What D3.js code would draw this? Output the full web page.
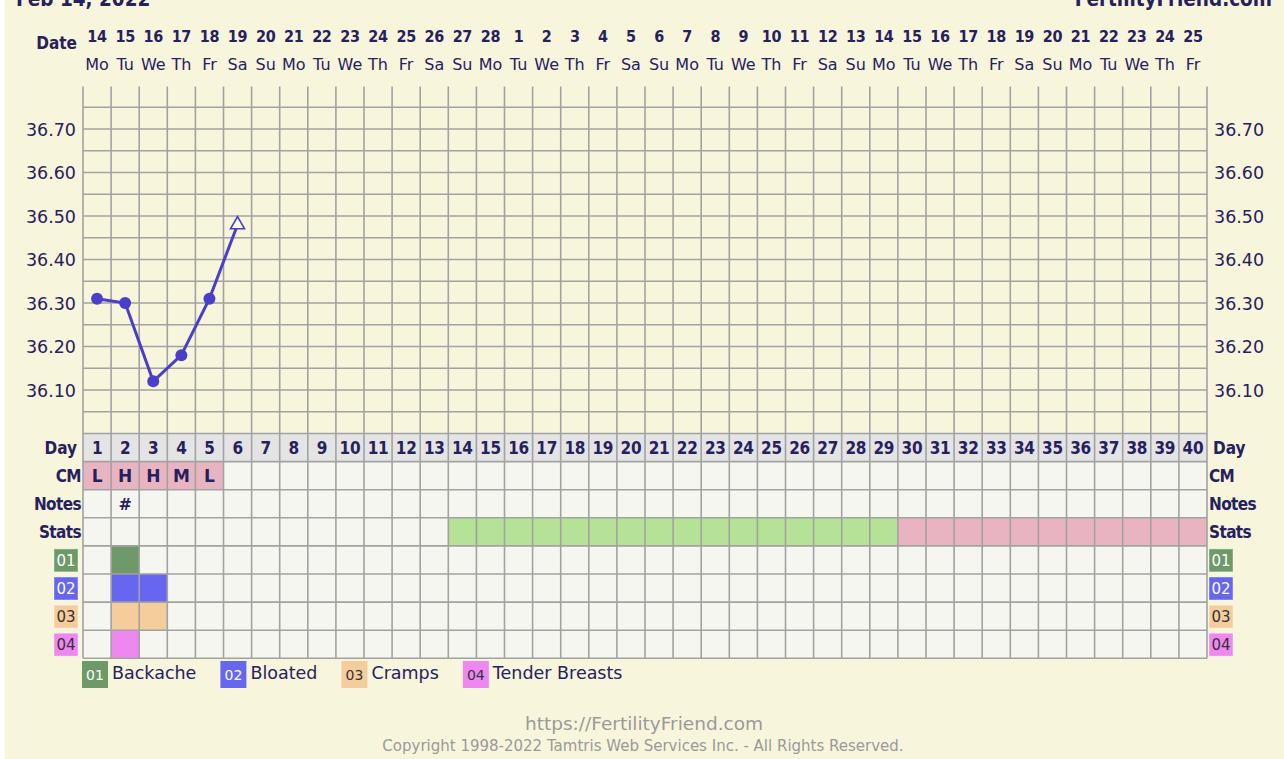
<!DOCTYPE html>
<html><head><meta charset="utf-8">
<script src="https://cdn.jsdelivr.net/npm/d3@7"></script>
<style>
body{margin:0;background:#fff;}
svg{display:block;}
</style></head>
<body>
<svg id="chart" width="1284" height="759"></svg>
<script>
// ---------- data ----------
const cycleDays = d3.range(1, 41);
const dateNums = [14,15,16,17,18,19,20,21,22,23,24,25,26,27,28,1,2,3,4,5,6,7,8,9,10,11,12,13,14,15,16,17,18,19,20,21,22,23,24,25];
const weekdays = ["Mo","Tu","We","Th","Fr","Sa","Su","Mo","Tu","We","Th","Fr","Sa","Su","Mo","Tu","We","Th","Fr","Sa","Su","Mo","Tu","We","Th","Fr","Sa","Su","Mo","Tu","We","Th","Fr","Sa","Su","Mo","Tu","We","Th","Fr"];
const tempDays   = [1, 2, 3, 4, 5, 6];
const tempValues = [36.31, 36.30, 36.12, 36.18, 36.31, 36.48];
const tempOpen   = [false, false, false, false, false, true];
const tempTicks  = [36.10, 36.20, 36.30, 36.40, 36.50, 36.60, 36.70];
const cmDays   = [1, 2, 3, 4, 5];
const cmValues = ["L", "H", "H", "M", "L"];
const noteDays   = [2];
const noteValues = ["#"];
const statsGreenDays = d3.range(14, 30);
const statsPinkDays  = d3.range(30, 41);
const symptomCodes  = ["01", "02", "03", "04"];
const symptomNames  = ["Backache", "Bloated", "Cramps", "Tender Breasts"];
const symptomColors = ["#6e9a6a", "#6666f0", "#f5cc9c", "#ee88f0"];
const symptomText   = ["#ffffff", "#ffffff", "#333333", "#333333"];
const symptomDays   = [[2], [2, 3], [2, 3], [2]];
const rowLabels = ["Day", "CM", "Notes", "Stats"];

// ---------- style ----------
const navy = "#26215e";
const bg = "#f7f5dc";
const gridCol = "#a2a2a2";
const lineCol = "#4a3fc8";
const boldCond = "'DejaVu Sans Condensed','DejaVu Sans',sans-serif";
const sans = "'DejaVu Sans',Verdana,sans-serif";

const svg = d3.select("#chart");
svg.append("rect").attr("x", 5).attr("y", 0).attr("width", 1279).attr("height", 759).attr("fill", bg);

const left = 83, right = 1207;
const x = d3.scaleBand().domain(cycleDays).range([left, right]).paddingInner(0).paddingOuter(0);
const bw = x.bandwidth();
const cx = d => x(d) + bw / 2;
const y = d3.scaleLinear().domain([36.0, 36.8]).range([433.5, 85.5]);
const gridTop = 86.5, tempBottom = 433.5;
const rowH = 28.1;
const rowY = i => tempBottom + i * rowH;
const nRows = 8;

// titles
svg.append("text").attr("x", 16).attr("y", 6).attr("fill", navy)
  .attr("font-family", boldCond).attr("font-weight", "bold").attr("font-size", 20.5).text("Feb 14, 2022");
svg.append("text").attr("x", 1272).attr("y", 6).attr("text-anchor", "end").attr("fill", navy)
  .attr("font-family", boldCond).attr("font-weight", "bold").attr("font-size", 20.5).text("FertilityFriend.com");

// date header
svg.append("text").attr("x", 77).attr("y", 49).attr("text-anchor", "end").attr("fill", navy)
  .attr("font-family", boldCond).attr("font-weight", "bold").attr("font-size", 17).text("Date");
svg.append("g").selectAll("text").data(cycleDays).join("text")
  .attr("x", d => cx(d)).attr("y", 42).attr("text-anchor", "middle").attr("fill", navy)
  .attr("font-family", boldCond).attr("font-weight", "bold").attr("font-size", 16)
  .attr("letter-spacing", -0.3)
  .text((d, i) => dateNums[i]);
svg.append("g").selectAll("text").data(cycleDays).join("text")
  .attr("x", d => cx(d)).attr("y", 70).attr("text-anchor", "middle").attr("fill", navy)
  .attr("font-family", sans).attr("font-size", 16)
  .text((d, i) => weekdays[i]);

// temperature area grid
const g = svg.append("g");
const hLines = d3.range(1, 16).map(i => 36 + i * 0.05);
g.selectAll("line.h").data(hLines).join("line").attr("class", "h")
  .attr("x1", left).attr("x2", right).attr("y1", d => y(d)).attr("y2", d => y(d))
  .attr("stroke", gridCol).attr("stroke-width", 1.6);

// table rows background cells
const cellFill = (row, d) => {
  if (row === 0) return "#e4e4e4";
  if (row === 1 && cmDays.includes(d)) return "#e8b4c2";
  if (row === 3 && statsGreenDays.includes(d)) return "#b5e296";
  if (row === 3 && statsPinkDays.includes(d)) return "#e8b4c2";
  if (row >= 4) {
    const k = row - 4;
    if (symptomDays[k].includes(d)) return symptomColors[k];
  }
  return "#f6f6f1";
};
const cells = [];
for (let r = 0; r < nRows; r++) cycleDays.forEach(d => cells.push({ r, d }));
g.selectAll("rect.cell").data(cells).join("rect").attr("class", "cell")
  .attr("x", c => x(c.d)).attr("y", c => rowY(c.r)).attr("width", bw).attr("height", rowH)
  .attr("fill", c => cellFill(c.r, c.d));

g.selectAll("line.r").data(d3.range(0, nRows + 1)).join("line").attr("class", "r")
  .attr("x1", left).attr("x2", right).attr("y1", r => rowY(r)).attr("y2", r => rowY(r))
  .attr("stroke", gridCol).attr("stroke-width", 1.6);
g.selectAll("line.v").data(d3.range(0, 41)).join("line").attr("class", "v")
  .attr("x1", i => left + i * bw).attr("x2", i => left + i * bw)
  .attr("y1", gridTop).attr("y2", rowY(nRows))
  .attr("stroke", gridCol).attr("stroke-width", 1.6);

// y axes
const fmt = d3.format(".2f");
const axL = svg.append("g").attr("transform", `translate(${left},0)`)
  .call(d3.axisLeft(y).tickValues(tempTicks).tickFormat(fmt).tickSize(0).tickPadding(7));
const axR = svg.append("g").attr("transform", `translate(${right},0)`)
  .call(d3.axisRight(y).tickValues(tempTicks).tickFormat(fmt).tickSize(0).tickPadding(7));
[axL, axR].forEach(a => {
  a.select(".domain").remove();
  a.selectAll("text").attr("fill", navy).attr("font-family", sans).attr("font-size", 17.5).attr("dy", "0.35em");
});

// temperature line
const pts = tempDays.map((d, i) => ({ d, v: tempValues[i], open: tempOpen[i] }));
svg.append("path").datum(pts)
  .attr("d", d3.line().x(p => cx(p.d)).y(p => y(p.v)))
  .attr("fill", "none").attr("stroke", lineCol).attr("stroke-width", 3);
svg.append("g").selectAll("circle").data(pts.filter(p => !p.open)).join("circle")
  .attr("cx", p => cx(p.d)).attr("cy", p => y(p.v)).attr("r", 6).attr("fill", lineCol);
svg.append("g").selectAll("path").data(pts.filter(p => p.open)).join("path")
  .attr("transform", p => `translate(${cx(p.d)},${y(p.v)})`)
  .attr("d", d3.symbol().type(d3.symbolTriangle).size(85))
  .attr("fill", "#fbfbf0").attr("stroke", lineCol).attr("stroke-width", 1.6);

// day numbers row
svg.append("g").selectAll("text").data(cycleDays).join("text")
  .attr("x", d => cx(d)).attr("y", rowY(0) + 20.5).attr("text-anchor", "middle").attr("fill", navy)
  .attr("font-family", boldCond).attr("font-weight", "bold").attr("font-size", 17)
  .attr("letter-spacing", -0.3).text(d => d);
svg.append("g").selectAll("text").data(cmDays).join("text")
  .attr("x", d => cx(d)).attr("y", rowY(1) + 20.5).attr("text-anchor", "middle").attr("fill", navy)
  .attr("font-family", sans).attr("font-weight", "bold").attr("font-size", 17)
  .text((d, i) => cmValues[i]);
svg.append("g").selectAll("text").data(noteDays).join("text")
  .attr("x", d => cx(d)).attr("y", rowY(2) + 20.5).attr("text-anchor", "middle").attr("fill", navy)
  .attr("font-family", sans).attr("font-weight", "bold").attr("font-size", 16)
  .text((d, i) => noteValues[i]);

rowLabels.forEach((lab, i) => {
  svg.append("text").attr("x", i === 0 ? 77 : 81).attr("y", rowY(i) + 20.5).attr("text-anchor", "end")
    .attr("fill", navy).attr("font-family", boldCond).attr("font-weight", "bold").attr("font-size", 17)
    .attr("letter-spacing", i === 0 ? 0 : -0.6).text(lab);
  svg.append("text").attr("x", i === 0 ? 1213 : 1209).attr("y", rowY(i) + 20.5)
    .attr("fill", navy).attr("font-family", boldCond).attr("font-weight", "bold").attr("font-size", 17)
    .attr("letter-spacing", i === 0 ? 0 : -0.6).text(lab);
});
symptomCodes.forEach((code, k) => {
  [54, 1209].forEach(bx => {
    const by = rowY(4 + k) + 3;
    svg.append("rect").attr("x", bx).attr("y", by).attr("width", 24).attr("height", 23)
      .attr("fill", symptomColors[k]).attr("stroke", "#ffffff").attr("stroke-opacity", 0.4);
    svg.append("text").attr("x", bx + 12).attr("y", by + 17).attr("text-anchor", "middle")
      .attr("fill", symptomText[k]).attr("font-family", sans).attr("font-size", 15).text(code);
  });
});

// legend
let lx = 82;
const legY = 661;
symptomCodes.forEach((code, k) => {
  const lg = svg.append("g");
  lg.append("rect").attr("x", lx).attr("y", legY).attr("width", 26).attr("height", 27).attr("fill", symptomColors[k]);
  lg.append("text").attr("x", lx + 13).attr("y", legY + 19).attr("text-anchor", "middle")
    .attr("fill", symptomText[k]).attr("font-family", sans).attr("font-size", 14).text(code);
  const t = lg.append("text").attr("x", lx + 30).attr("y", legY + 18).attr("fill", navy)
    .attr("font-family", sans).attr("font-size", 17.5).text(symptomNames[k]);
  const w = t.node().getComputedTextLength();
  lx = lx + 30 + w + 24;
});

// footer
svg.append("text").attr("x", 644).attr("y", 730).attr("text-anchor", "middle").attr("fill", "#9a9a9a")
  .attr("font-family", sans).attr("font-size", 18.5).text("https://FertilityFriend.com");
svg.append("text").attr("x", 643).attr("y", 751).attr("text-anchor", "middle").attr("fill", "#9a9a9a")
  .attr("font-family", sans).attr("font-size", 15).text("Copyright 1998-2022 Tamtris Web Services Inc. - All Rights Reserved.");
</script>
</body></html>
